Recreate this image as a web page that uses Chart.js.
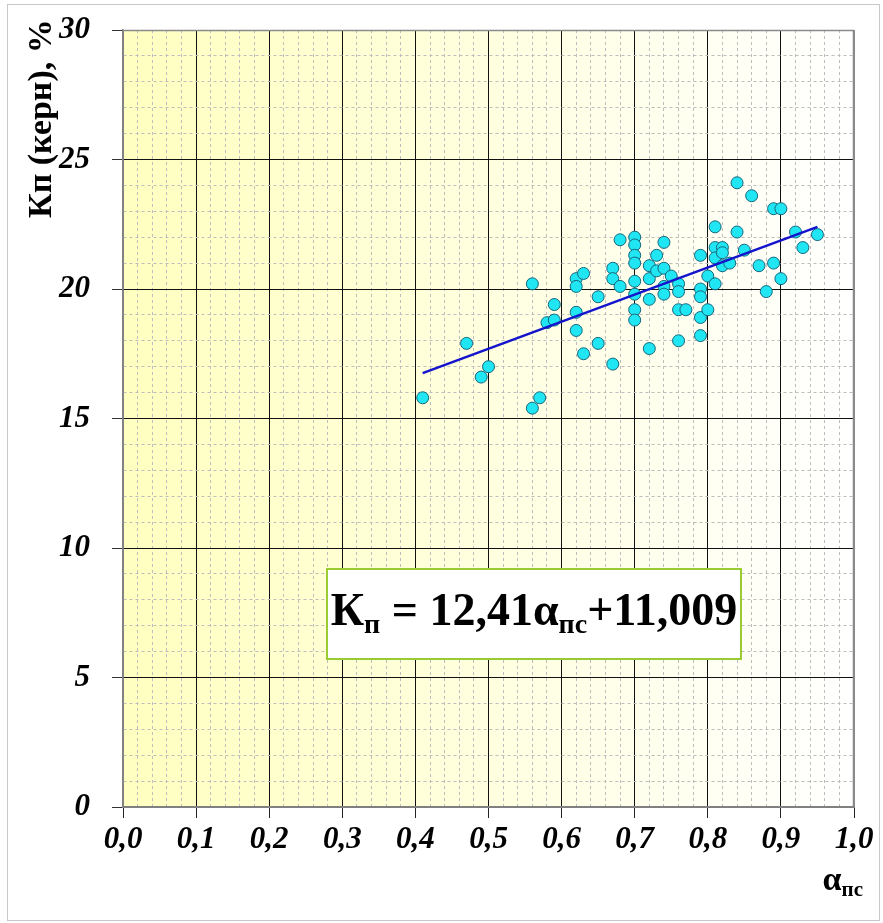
<!DOCTYPE html>
<html>
<head>
<meta charset="utf-8">
<script src="https://cdn.jsdelivr.net/npm/chart.js@4.4.0/dist/chart.umd.min.js"></script>
<style>
  html, body { margin: 0; padding: 0; background: #fff; }
</style>
</head>
<body>
<canvas id="kpChart" width="883" height="923"></canvas>
<script>
// core porosity vs alpha_ps
const alphaPs = [
  0.41, 0.47, 0.49, 0.50, 0.56, 0.56, 0.57, 0.58, 0.59, 0.59,
  0.62, 0.62, 0.63, 0.62, 0.62, 0.65, 0.65, 0.63, 0.67, 0.67,
  0.67, 0.68, 0.68, 0.70, 0.70, 0.70, 0.70, 0.70, 0.70, 0.70,
  0.70, 0.72, 0.72, 0.72, 0.72, 0.73, 0.73, 0.74, 0.74, 0.74,
  0.74, 0.75, 0.76, 0.76, 0.76, 0.76, 0.77, 0.79, 0.79, 0.79,
  0.79, 0.79, 0.80, 0.80, 0.81, 0.81, 0.81, 0.81, 0.82, 0.82,
  0.82, 0.83, 0.84, 0.84, 0.85, 0.86, 0.87, 0.88, 0.89, 0.89,
  0.90, 0.90, 0.92, 0.93, 0.95
];
const kpCore = [
  15.8, 17.9, 16.6, 17.0, 20.2, 15.4, 15.8, 18.7, 18.8, 19.4,
  20.4, 20.1, 20.6, 19.1, 18.4, 19.7, 17.9, 17.5, 17.1, 20.8,
  20.4, 20.1, 21.9, 22.0, 21.7, 21.3, 21.0, 20.3, 19.8, 19.2,
  18.8, 20.9, 20.4, 19.6, 17.7, 21.3, 20.7, 21.8, 20.8, 20.1,
  19.8, 20.5, 20.2, 19.9, 19.2, 18.0, 19.2, 21.3, 20.0, 19.7,
  18.9, 18.2, 20.5, 19.2, 22.4, 21.6, 21.2, 20.2, 21.6, 21.4,
  20.9, 21.0, 24.1, 22.2, 21.5, 23.6, 20.9, 19.9, 23.1, 21.0,
  23.1, 20.4, 22.2, 21.6, 22.1
];
// trend line as drawn on the picture
const trendAlpha = [0.41, 0.95];
const trendKp = [16.75, 22.4];

const xMin = 0, xMax = 1, xMinor = 0.02, xMajorEvery = 5;
const yMin = 0, yMax = 30, yMinor = 1, yMajorEvery = 5;

const serif = "'Liberation Serif', 'Times New Roman', serif";

function isMajor(v, step, every) {
  return Math.round(v / step) % every === 0;
}

function gridColor(v, step, every, lo, hi) {
  if (Math.abs(v - lo) < 1e-9 || Math.abs(v - hi) < 1e-9) return '#8a8a8a';
  return isMajor(v, step, every) ? '#111111' : '#bdbdbd';
}

const decor = {
  id: 'decor',
  beforeDraw(chart) {
    const ctx = chart.ctx;
    const a = chart.chartArea;
    ctx.save();
    ctx.fillStyle = '#ffffff';
    ctx.fillRect(0, 0, chart.width, chart.height);
    ctx.strokeStyle = '#c8c8c8';
    ctx.lineWidth = 1;
    ctx.strokeRect(7.5, 4.5, chart.width - 11, chart.height - 7);
    const g = ctx.createLinearGradient(a.left, 0, a.right, 0);
    g.addColorStop(0, '#ffffc0');
    g.addColorStop(1, '#ffffff');
    ctx.fillStyle = g;
    ctx.fillRect(a.left, a.top, a.right - a.left, a.bottom - a.top);
    ctx.restore();
  },
  afterDraw(chart) {
    const ctx = chart.ctx;
    const a = chart.chartArea;
    ctx.save();
    // plot frame top/right
    ctx.strokeStyle = '#8a8a8a';
    ctx.lineWidth = 1.5;
    ctx.beginPath();
    ctx.moveTo(a.left, a.top + 0.5);
    ctx.lineTo(a.right - 0.5, a.top + 0.5);
    ctx.lineTo(a.right - 0.5, a.bottom);
    ctx.stroke();

    ctx.fillStyle = '#000';
    ctx.textBaseline = 'alphabetic';

    // y axis title, rotated
    ctx.save();
    ctx.translate(51, 218);
    ctx.rotate(-Math.PI / 2);
    ctx.font = 'bold 34px ' + serif;
    ctx.textAlign = 'left';
    ctx.fillText('Кп (керн), %', 0, 0);
    ctx.restore();

    // x axis title
    const big = 'bold 34px ' + serif, sub = 'bold 21px ' + serif;
    ctx.font = sub;
    const wSub = ctx.measureText('пс').width;
    ctx.font = big;
    const wA = ctx.measureText('α').width;
    let x0 = 863 - wSub - wA;
    ctx.fillText('α', x0, 890);
    ctx.font = sub;
    ctx.fillText('пс', x0 + wA, 896);

    // equation box
    const bx = 327, by = 569, bw = 414, bh = 90;
    ctx.fillStyle = '#ffffff';
    ctx.fillRect(bx, by, bw, bh);
    ctx.strokeStyle = '#99cc33';
    ctx.lineWidth = 2;
    ctx.strokeRect(bx, by, bw, bh);

    const parts = [
      ['К', 'bold 46px ' + serif, 0],
      ['п', 'bold 28px ' + serif, 8],
      [' = 12,41α', 'bold 46px ' + serif, 0],
      ['пс', 'bold 28px ' + serif, 8],
      ['+11,009', 'bold 46px ' + serif, 0]
    ];
    let total = 0;
    parts.forEach(p => { ctx.font = p[1]; total += ctx.measureText(p[0]).width; });
    let tx = bx + (bw - total) / 2;
    const base = 625;
    ctx.fillStyle = '#000';
    parts.forEach(p => {
      ctx.font = p[1];
      ctx.fillText(p[0], tx, base + p[2]);
      tx += ctx.measureText(p[0]).width;
    });
    ctx.restore();
  }
};

const ctx = document.getElementById('kpChart').getContext('2d');

new Chart(ctx, {
  data: {
    datasets: [
      {
        type: 'line',
        label: 'trend',
        data: trendAlpha.map((x, i) => ({ x: x, y: trendKp[i] })),
        borderColor: '#1414cc',
        borderWidth: 2.5,
        pointRadius: 0,
        fill: false,
        order: 0
      },
      {
        type: 'scatter',
        label: 'Кп',
        data: alphaPs.map((x, i) => ({ x: x, y: kpCore[i] })),
        backgroundColor: '#1fe6f2',
        borderColor: '#17667c',
        borderWidth: 1,
        pointRadius: 6,
        pointHoverRadius: 6,
        order: 1
      }
    ]
  },
  options: {
    responsive: false,
    animation: false,
    events: [],
    layout: { padding: { left: 0, top: 30, right: 29, bottom: 0 } },
    plugins: {
      legend: { display: false },
      tooltip: { enabled: false }
    },
    scales: {
      x: {
        type: 'linear',
        min: xMin,
        max: xMax,
        afterFit: s => { s.height = 116; s.paddingLeft = 0; s.paddingRight = 0; },
        ticks: {
          stepSize: xMinor,
          autoSkip: false,
          maxRotation: 0,
          minRotation: 0,
          padding: 3,
          color: '#000',
          font: { family: serif, size: 31, weight: 'bold', style: 'italic' },
          callback: v => isMajor(v, xMinor, xMajorEvery) ? v.toFixed(1).replace('.', ',') : ''
        },
        grid: {
          tickLength: 11,
          lineWidth: 1,
          color: c => c.tick ? gridColor(c.tick.value, xMinor, xMajorEvery, xMin, xMax) : '#111',
          tickColor: c => (c.tick && isMajor(c.tick.value, xMinor, xMajorEvery)) ? '#222' : 'rgba(0,0,0,0)'
        },
        border: {
          color: '#808080',
          width: 2,
          dash: c => (c.tick && !isMajor(c.tick.value, xMinor, xMajorEvery)) ? [3, 3] : []
        }
      },
      y: {
        type: 'linear',
        min: yMin,
        max: yMax,
        afterFit: s => { s.width = 123; s.paddingTop = 0; s.paddingBottom = 0; },
        ticks: {
          stepSize: yMinor,
          autoSkip: false,
          padding: 22,
          color: '#000',
          font: { family: serif, size: 31, weight: 'bold', style: 'italic' },
          callback: v => isMajor(v, yMinor, yMajorEvery) ? String(v) : ''
        },
        grid: {
          tickLength: 11,
          lineWidth: 1,
          color: c => c.tick ? gridColor(c.tick.value, yMinor, yMajorEvery, yMin, yMax) : '#111',
          tickColor: c => (c.tick && isMajor(c.tick.value, yMinor, yMajorEvery)) ? '#333' : 'rgba(0,0,0,0)'
        },
        border: {
          color: '#808080',
          width: 1.5,
          dash: c => (c.tick && !isMajor(c.tick.value, yMinor, yMajorEvery)) ? [3, 3] : []
        }
      }
    }
  },
  plugins: [decor]
});
</script>
</body>
</html>
